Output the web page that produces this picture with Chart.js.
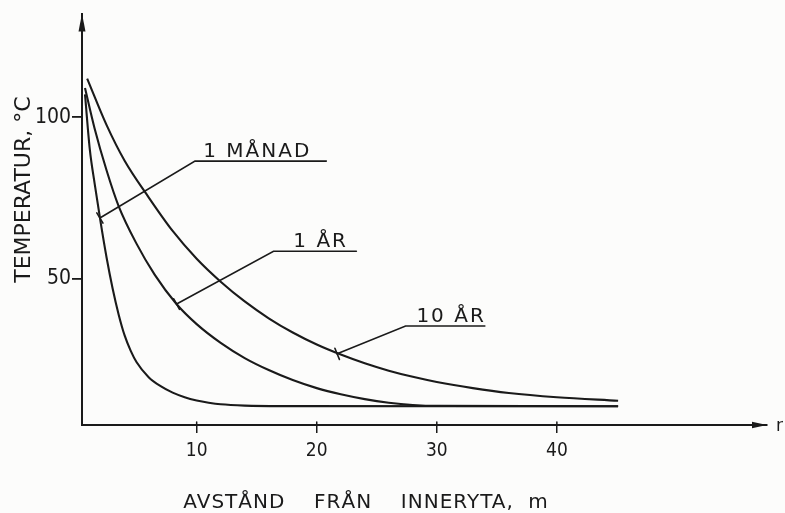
<!DOCTYPE html>
<html>
<head>
<meta charset="utf-8">
<script src="https://cdn.jsdelivr.net/npm/chart.js@4/dist/chart.umd.min.js"></script>
<style>
  html, body { margin: 0; padding: 0; background: #fcfcfb; }
  canvas { display: block; }
</style>
</head>
<body>
<canvas id="chart" width="785" height="513"></canvas>
<script>
// avstånd (m) och temperatur (°C)
const manadX = [0.7, 1.1, 1.5, 2, 2.5, 3, 3.5, 4, 4.5, 5, 6, 7, 8, 9, 10, 11, 12, 14, 17, 45.1];
const manadT = [107, 90, 79.5, 67.5, 56.5, 47, 39, 32.5, 27.8, 24.2, 19.6, 16.8, 14.8, 13.4, 12.4, 11.7, 11.2, 10.8, 10.65, 10.6];

const arX = [0.7, 1.5, 2.5, 3.5, 5, 6.5, 8.3, 10, 12, 14, 16, 18, 20, 22, 24, 26, 28, 30, 45.1];
const arT = [109, 96.5, 83.5, 72.5, 60.8, 51.3, 42.3, 36.0, 30.2, 25.5, 21.8, 18.7, 16.2, 14.3, 12.8, 11.7, 11.0, 10.7, 10.6];

const tioX = [0.88, 2.5, 4, 6, 8, 10, 12, 14, 16, 18, 20, 22, 24, 26, 28, 30, 33, 36, 40, 45.1];
const tioT = [111.9, 97.5, 86.5, 75.2, 64.8, 56.2, 49.1, 43.0, 37.8, 33.4, 29.7, 26.6, 23.9, 21.6, 19.7, 18.1, 16.2, 14.7, 13.4, 12.3];

const xTicks = [10, 20, 30, 40];
const yTicks = [50, 100];

// etiketter med hänvisningslinjer
const calloutText = ["1 MÅNAD", "1 ÅR", "10 ÅR"];
const calloutTipX = [1.94, 8.33, 21.7];
const calloutTipT = [68.8, 42.2, 26.8];
const calloutLineX0 = [9.86, 16.4, 27.4];
const calloutLineX1 = [20.8, 23.3, 34.0];
const calloutLineT = [86.4, 58.5, 35.4];
const calloutTextX = [10.55, 18.05, 28.3];

const xTitle = "AVSTÅND  FRÅN  INNERYTA, m";
const yTitle = "TEMPERATUR, °C";
const xArrowLabel = "r";

const INK = "#1a1a1a";
const NARROW = '"Liberation Sans Narrow", "DejaVu Sans Condensed", sans-serif';
const SANS = '"DejaVu Sans", sans-serif';

const pts = (xs, ys) => xs.map((v, i) => ({ x: v, y: ys[i] }));
const curve = (label, xs, ys) => ({
  label, data: pts(xs, ys), borderColor: INK, borderWidth: 2.1,
  pointRadius: 0, fill: false, cubicInterpolationMode: "monotone"
});

const decor = {
  id: "decor",
  beforeDraw(chart) {
    const { ctx, width, height } = chart;
    ctx.save();
    ctx.fillStyle = "#fcfcfb";
    ctx.fillRect(0, 0, width, height);
    ctx.restore();
  },
  afterDraw(chart) {
    const { ctx, chartArea: a, scales: { x, y } } = chart;
    ctx.save();
    ctx.strokeStyle = INK; ctx.fillStyle = INK;
    ctx.lineWidth = 1.6; ctx.lineCap = "round";

    // pilar på axlarna
    ctx.beginPath();
    ctx.moveTo(a.right, a.bottom); ctx.lineTo(a.right - 15, a.bottom - 3.2); ctx.lineTo(a.right - 15, a.bottom + 3.2);
    ctx.closePath(); ctx.fill();
    ctx.beginPath();
    ctx.moveTo(a.left, a.top); ctx.lineTo(a.left - 3.5, a.top + 18); ctx.lineTo(a.left + 3.5, a.top + 18);
    ctx.closePath(); ctx.fill();

    // skalstrecken går lite upp ovanför x-axeln
    ctx.lineWidth = 1.5;
    xTicks.forEach(v => {
      const px = x.getPixelForValue(v);
      ctx.beginPath(); ctx.moveTo(px, a.bottom - 3); ctx.lineTo(px, a.bottom); ctx.stroke();
    });

    // hänvisningar
    ctx.lineWidth = 1.6;
    ctx.font = "20px " + SANS;
    ctx.letterSpacing = "2px";
    ctx.textAlign = "left"; ctx.textBaseline = "alphabetic";
    calloutText.forEach((t, i) => {
      const tx = x.getPixelForValue(calloutTipX[i]), ty = y.getPixelForValue(calloutTipT[i]);
      const x0 = x.getPixelForValue(calloutLineX0[i]), x1 = x.getPixelForValue(calloutLineX1[i]);
      const ly = y.getPixelForValue(calloutLineT[i]);
      ctx.beginPath();
      ctx.moveTo(tx, ty); ctx.lineTo(x0, ly); ctx.lineTo(x1, ly);
      ctx.stroke();
      // litet streck vid spetsen
      const dx = x0 - tx, dy = ly - ty, len = Math.hypot(dx, dy);
      const nx = -dy / len, ny = dx / len;
      ctx.beginPath();
      ctx.moveTo(tx + nx * 6, ty + ny * 6); ctx.lineTo(tx - nx * 6, ty - ny * 6);
      ctx.stroke();
      ctx.fillText(t, x.getPixelForValue(calloutTextX[i]), ly - 4);
    });

    // axeltitlar
    ctx.letterSpacing = "1px";
    ctx.wordSpacing = "7px";
    ctx.textAlign = "center";
    ctx.fillText(xTitle, a.left + 284, a.bottom + 83);
    ctx.wordSpacing = "0px";

    ctx.save();
    ctx.font = "22px " + SANS;
    ctx.letterSpacing = "0px";
    ctx.translate(24, a.top + 176);
    ctx.rotate(-Math.PI / 2);
    ctx.textBaseline = "middle";
    ctx.fillText(yTitle, 0, 0);
    ctx.restore();

    ctx.font = "17px " + SANS;
    ctx.letterSpacing = "0px";
    ctx.textAlign = "left"; ctx.textBaseline = "middle";
    ctx.fillText(xArrowLabel, a.right + 9, a.bottom + 2);
    ctx.restore();
  }
};

new Chart(document.getElementById("chart"), {
  type: "line",
  data: {
    datasets: [
      curve("1 månad", manadX, manadT),
      curve("1 år", arX, arT),
      curve("10 år", tioX, tioT)
    ]
  },
  options: {
    responsive: false,
    animation: false,
    devicePixelRatio: 1,
    layout: { padding: { top: 12, right: 18, left: 0, bottom: 0 } },
    plugins: { legend: { display: false }, tooltip: { enabled: false } },
    scales: {
      x: {
        type: "linear", min: 0.45, max: 57.5,
        afterBuildTicks: (s) => { s.ticks = xTicks.map(v => ({ value: v })); },
        afterFit: (s) => { s.height = 88; },
        border: { color: INK, width: 2 },
        grid: { drawOnChartArea: false, drawTicks: true, tickLength: 8, color: INK, lineWidth: 1.5 },
        ticks: { color: INK, padding: 7, maxRotation: 0, font: { family: NARROW, size: 19 } }
      },
      y: {
        type: "linear", min: 4.8, max: 132,
        afterBuildTicks: (s) => { s.ticks = yTicks.map(v => ({ value: v })); },
        afterFit: (s) => { s.width = 82; },
        border: { color: INK, width: 2 },
        grid: { drawOnChartArea: false, drawTicks: true, tickLength: 10, color: INK, lineWidth: 1.8 },
        ticks: { color: INK, padding: 1, font: { family: NARROW, size: 21 } }
      }
    }
  },
  plugins: [decor]
});
</script>
</body>
</html>
